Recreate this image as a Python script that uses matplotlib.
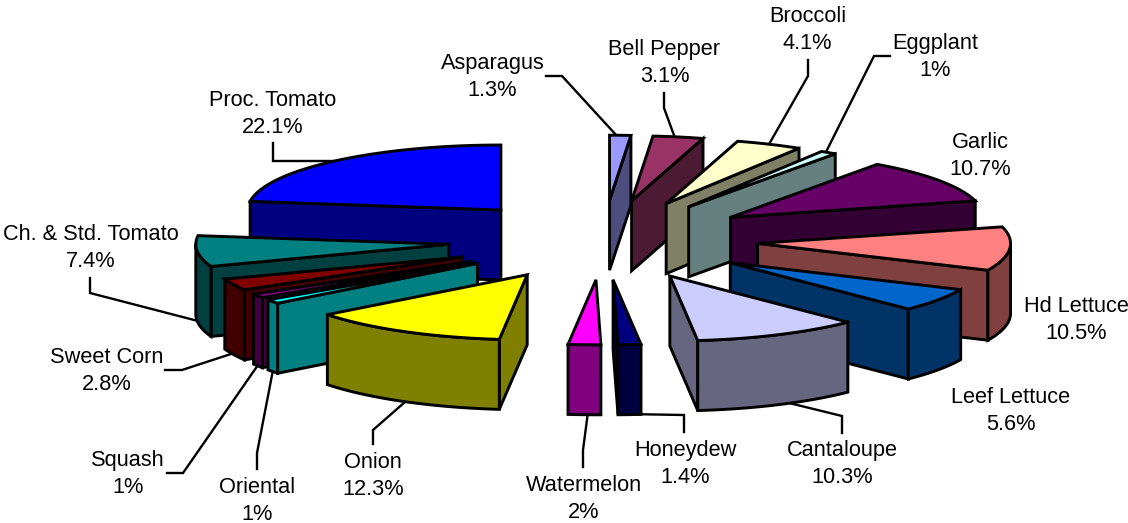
import numpy as np
import matplotlib
matplotlib.use("Agg")
import matplotlib.pyplot as plt
from matplotlib.colors import to_rgb
from matplotlib.patches import Polygon

# clockwise from 12 o'clock
crops = ["Asparagus", "Bell Pepper", "Broccoli", "Eggplant", "Garlic", "Hd Lettuce",
         "Leef Lettuce", "Cantaloupe", "Honeydew", "Watermelon", "Onion", "Oriental",
         "Squash", "Sweet Corn", "Ch. & Std. Tomato", "Proc. Tomato"]
shares = [1.3, 3.1, 4.1, 1, 10.7, 10.5, 5.6, 10.3, 1.4, 2, 12.3, 1, 1, 2.8, 7.4, 22.1]
colors = ["#9999FF", "#993366", "#FFFFCC", "#CCFFFF", "#660066", "#FF8080",
          "#0066CC", "#CCCCFF", "#000080", "#FF00FF", "#FFFF00", "#00FFFF",
          "#800080", "#800000", "#008080", "#0000FF"]

# label centre x and first-line baseline y, in pixels
label_pos = [(492.5, 69), (664.5, 55), (807.5, 22), (935, 49), (980, 148), (1076, 312),
             (1011, 403), (842, 456), (685, 456), (583.5, 491), (373, 468), (257.5, 493),
             (128, 466), (107, 363), (91, 240), (273, 106)]
leaders = {
    "Asparagus": [(546, 76), (562, 76), (617, 136)],
    "Bell Pepper": [(664, 93), (664, 108), (675, 138)],
    "Broccoli": [(808, 60), (808, 76), (768, 146)],
    "Eggplant": [(890, 56), (874, 56), (825, 154)],
    "Cantaloupe": [(842, 433), (842, 416), (785, 402)],
    "Honeydew": [(684, 432), (684, 415), (625, 414)],
    "Watermelon": [(583, 467), (583, 450), (588, 412)],
    "Onion": [(373, 444), (373, 430), (405, 402)],
    "Oriental": [(257, 469), (257, 453), (273, 370)],
    "Squash": [(167, 473), (183, 473), (258, 365)],
    "Sweet Corn": [(165, 370), (182, 370), (234, 353)],
    "Ch. & Std. Tomato": [(90, 278), (90, 293), (198, 321)],
    "Proc. Tomato": [(273, 143), (273, 161), (337, 161)],
}

CX, CY = 603, 240      # pie centre
RX, RY = 253, 65       # ellipse radii of the top face
DEPTH = 70             # pie thickness
EXPLODE = 0.613        # slice offset as fraction of radius
LW = 2.1


def ell(angle, frac=1.0):
    return np.array([RX * frac * np.sin(angle), -RY * frac * np.cos(angle)])


fig = plt.figure(figsize=(11.28, 5.23), dpi=100)
ax = fig.add_axes([0, 0, 1, 1])
ax.set_xlim(0, 1128)
ax.set_ylim(523, 0)
ax.axis("off")

vals = np.array(shares, dtype=float)
edges = np.concatenate([[0], np.cumsum(vals)]) / vals.sum() * 2 * np.pi

slices = []
for i in range(len(vals)):
    t0, t1 = edges[i], edges[i + 1]
    apex = np.array([CX, CY]) + ell((t0 + t1) / 2, EXPLODE)
    slices.append((apex[1], i, t0, t1, apex))

# back to front
z = 2
for _, i, t0, t1, apex in sorted(slices, key=lambda s: s[0]):
    top = np.array(to_rgb(colors[i]))
    side = tuple(top * 0.5)
    down = np.array([0, DEPTH])
    style = dict(edgecolor="black", linewidth=LW, joinstyle="miter")

    # radial walls facing the viewer
    if np.sin(t1) > 1e-6:
        p = apex + ell(t1)
        ax.add_patch(Polygon([apex, p, p + down, apex + down], facecolor=side, zorder=z, **style))
        z += 1
    if np.sin(t0) < -1e-6:
        p = apex + ell(t0)
        ax.add_patch(Polygon([apex, p, p + down, apex + down], facecolor=side, zorder=z, **style))
        z += 1

    # outer rim, front half only
    a0, a1 = max(t0, np.pi / 2), min(t1, 3 * np.pi / 2)
    if a1 > a0:
        arc = np.array([apex + ell(a) for a in np.linspace(a0, a1, 40)])
        ax.add_patch(Polygon(np.vstack([arc, arc[::-1] + down]), facecolor=side, zorder=z, **style))
        z += 1

    # top face
    arc = np.array([apex + ell(a) for a in np.linspace(t0, t1, 60)])
    ax.add_patch(Polygon(np.vstack([apex, arc]), facecolor=top, zorder=z, **style))
    z += 1

for name, line in leaders.items():
    xs, ys = zip(*line)
    ax.plot(xs, ys, color="black", lw=1.7, zorder=1, solid_joinstyle="miter")

for name, v, (x, y) in zip(crops, shares, label_pos):
    ax.text(x, y, name, ha="center", va="baseline", fontsize=15.7, family="Liberation Sans", color="black")
    ax.text(x, y + 27, f"{v:g}%", ha="center", va="baseline", fontsize=15.7, family="Liberation Sans", color="black")

fig.savefig("out.png", dpi=100)
